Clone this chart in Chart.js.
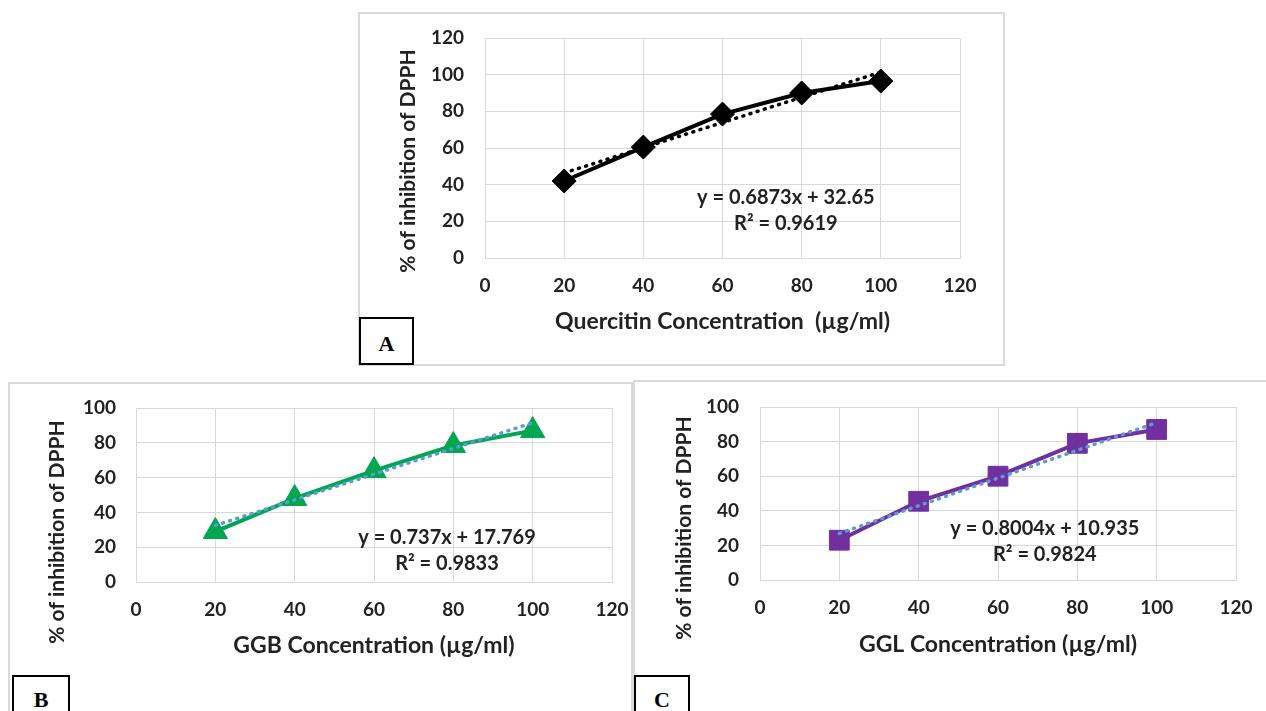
<!DOCTYPE html>
<html lang="en">
<head>
  <meta charset="UTF-8">
  <title>DPPH inhibition - Quercitin, GGB, GGL</title>
  <script src="https://cdn.jsdelivr.net/npm/chart.js"></script>
  <style>
    body { margin: 0; width: 1266px; height: 711px; background: #fff; position: relative; overflow: hidden; }
    .panel { position: absolute; border: 2px solid #d9d9d9; box-sizing: border-box; }
    .holder { position: absolute; }
    .tag { position: absolute; border: 2px solid #000; box-sizing: border-box; background: #fff;
           font: bold 22px "Liberation Serif", "DejaVu Serif", serif; color: #000; text-align: center; }
  </style>
</head>
<body>
  <div class="panel" style="left:358px; top:12px; width:647px; height:354px;"></div>
  <div class="panel" style="left:8px; top:382px; width:625px; height:340px;"></div>
  <div class="panel" style="left:633px; top:380px; width:640px; height:340px;"></div>

  <div class="holder" style="left:358px; top:12px;"><canvas id="chartA" width="646" height="353"></canvas></div>
  <div class="holder" style="left:8px; top:382px;"><canvas id="chartB" width="624" height="329"></canvas></div>
  <div class="holder" style="left:633px; top:380px;"><canvas id="chartC" width="633" height="331"></canvas></div>

  <div class="tag" style="left:359px; top:317px; width:55px; height:48px; line-height:50px;">A</div>
  <div class="tag" style="left:12px; top:675px; width:58px; height:50px; line-height:46px;">B</div>
  <div class="tag" style="left:634px; top:675px; width:56px; height:50px; line-height:46px;">C</div>

  <script>
    // concentrations (µg/ml)
    const conc = [20, 40, 60, 80, 100];
    const trendX = [20, 100];

    // % inhibition of DPPH
    const quercitin = [42, 60.5, 78.5, 90, 96.5];
    const ggb = [29, 48, 64, 78.5, 87];
    const ggl = [23, 45.5, 60, 79, 87];

    // linear trendline ends (dotted)
    const quercitinTrend = [46.4, 101.4];
    const ggbTrend = [32.5, 91.5];
    const gglTrend = [26.9, 91];

    const eqA = ['y = 0.6873x + 32.65', 'R² = 0.9619'];
    const eqB = ['y = 0.737x + 17.769', 'R² = 0.9833'];
    const eqC = ['y = 0.8004x + 10.935', 'R² = 0.9824'];

    const yTitle = '% of inhibition of DPPH';

    const FONT = 'Lato, "Open Sans", sans-serif';
    const INK = '#222222';
    const GRID = '#d9d9d9';

    function pts(xs, ys) {
      return xs.map((x, i) => ({ x: x, y: ys[i] }));
    }

    // trendline equation (placed in data units) + rotated y title (placed in canvas px)
    const notesPlugin = {
      id: 'notes',
      afterDatasetsDraw(chart, args, opts) {
        const ctx = chart.ctx;
        const px = chart.scales.x.getPixelForValue(opts.eqX);
        const py = chart.scales.y.getPixelForValue(opts.eqY);
        ctx.save();
        ctx.font = 'bold 20px ' + FONT;
        ctx.fillStyle = INK;
        ctx.textAlign = 'center';
        ctx.textBaseline = 'middle';
        opts.lines.forEach((line, i) => ctx.fillText(line, px, py + i * 26));

        ctx.translate(opts.titleAt[0], opts.titleAt[1]);
        ctx.rotate(-Math.PI / 2);
        ctx.font = 'bold 21px ' + FONT;
        ctx.fillText(yTitle, 0, 0);
        ctx.restore();
      }
    };

    function makeChart(id, cfg) {
      new Chart(document.getElementById(id), {
        type: 'scatter',
        data: {
          datasets: [{
            data: pts(trendX, cfg.trend),
            showLine: true,
            borderColor: cfg.trendColor,
            borderWidth: 3.5,
            borderDash: [1, 6.5],
            borderCapStyle: 'round',
            pointRadius: 0
          }, {
            data: pts(conc, cfg.values),
            showLine: true,
            borderColor: cfg.color,
            backgroundColor: cfg.color,
            borderWidth: 4,
            pointStyle: cfg.marker,
            pointRadius: cfg.markerSize,
            pointBorderWidth: 1
          }]
        },
        options: {
          responsive: false,
          animation: false,
          layout: { padding: { left: 0, top: cfg.padTop, right: cfg.padRight, bottom: 0 } },
          plugins: {
            legend: { display: false },
            tooltip: { enabled: false },
            notes: { eqX: cfg.eqAt[0], eqY: cfg.eqAt[1], lines: cfg.eq, titleAt: cfg.titleAt }
          },
          scales: {
            x: {
              type: 'linear',
              min: 0, max: 120,
              ticks: { stepSize: 20, padding: 16, color: INK, font: { family: FONT, size: 19, weight: 'bold' } },
              grid: { color: GRID, drawTicks: false },
              border: { color: GRID },
              title: {
                display: true, text: cfg.xTitle, color: INK,
                font: { family: FONT, size: 23, weight: 'bold' },
                padding: { top: 0, bottom: cfg.xTitlePad }
              },
              afterFit: s => { s.height = cfg.xHeight; s.paddingLeft = 0; s.paddingRight = 0; }
            },
            y: {
              min: 0, max: cfg.yMax,
              ticks: { stepSize: 20, padding: cfg.yTickPad, color: INK, font: { family: FONT, size: 19, weight: 'bold' } },
              grid: { color: GRID, drawTicks: false },
              border: { color: GRID },
              afterFit: s => { s.width = cfg.yWidth; s.paddingTop = 0; s.paddingBottom = 0; }
            }
          }
        },
        plugins: [notesPlugin]
      });
    }

    makeChart('chartA', {
      values: quercitin, trend: quercitinTrend, eq: eqA, eqAt: [76, 33],
      color: '#000000', trendColor: '#000000', marker: 'rectRot', markerSize: 12,
      xTitle: 'Quercitin Concentration  (µg/ml)', yMax: 120, titleAt: [50, 149],
      padTop: 26, padRight: 44, yWidth: 127, xHeight: 107, xTitlePad: 30, yTickPad: 21
    });

    makeChart('chartB', {
      values: ggb, trend: ggbTrend, eq: eqB, eqAt: [78.4, 25.3],
      color: '#00A650', trendColor: '#5B9BD5', marker: 'triangle', markerSize: 14,
      xTitle: 'GGB Concentration (µg/ml)', yMax: 100, titleAt: [49, 150],
      padTop: 26, padRight: 20, yWidth: 128, xHeight: 129, xTitlePad: 52, yTickPad: 20
    });

    makeChart('chartC', {
      values: ggl, trend: gglTrend, eq: eqC, eqAt: [71.8, 29.5],
      color: '#7030A0', trendColor: '#5B9BD5', marker: 'rect', markerSize: 14,
      xTitle: 'GGL Concentration (µg/ml)', yMax: 100, titleAt: [51, 148],
      padTop: 27, padRight: 30, yWidth: 127, xHeight: 131, xTitlePad: 53, yTickPad: 21
    });
  </script>
</body>
</html>
